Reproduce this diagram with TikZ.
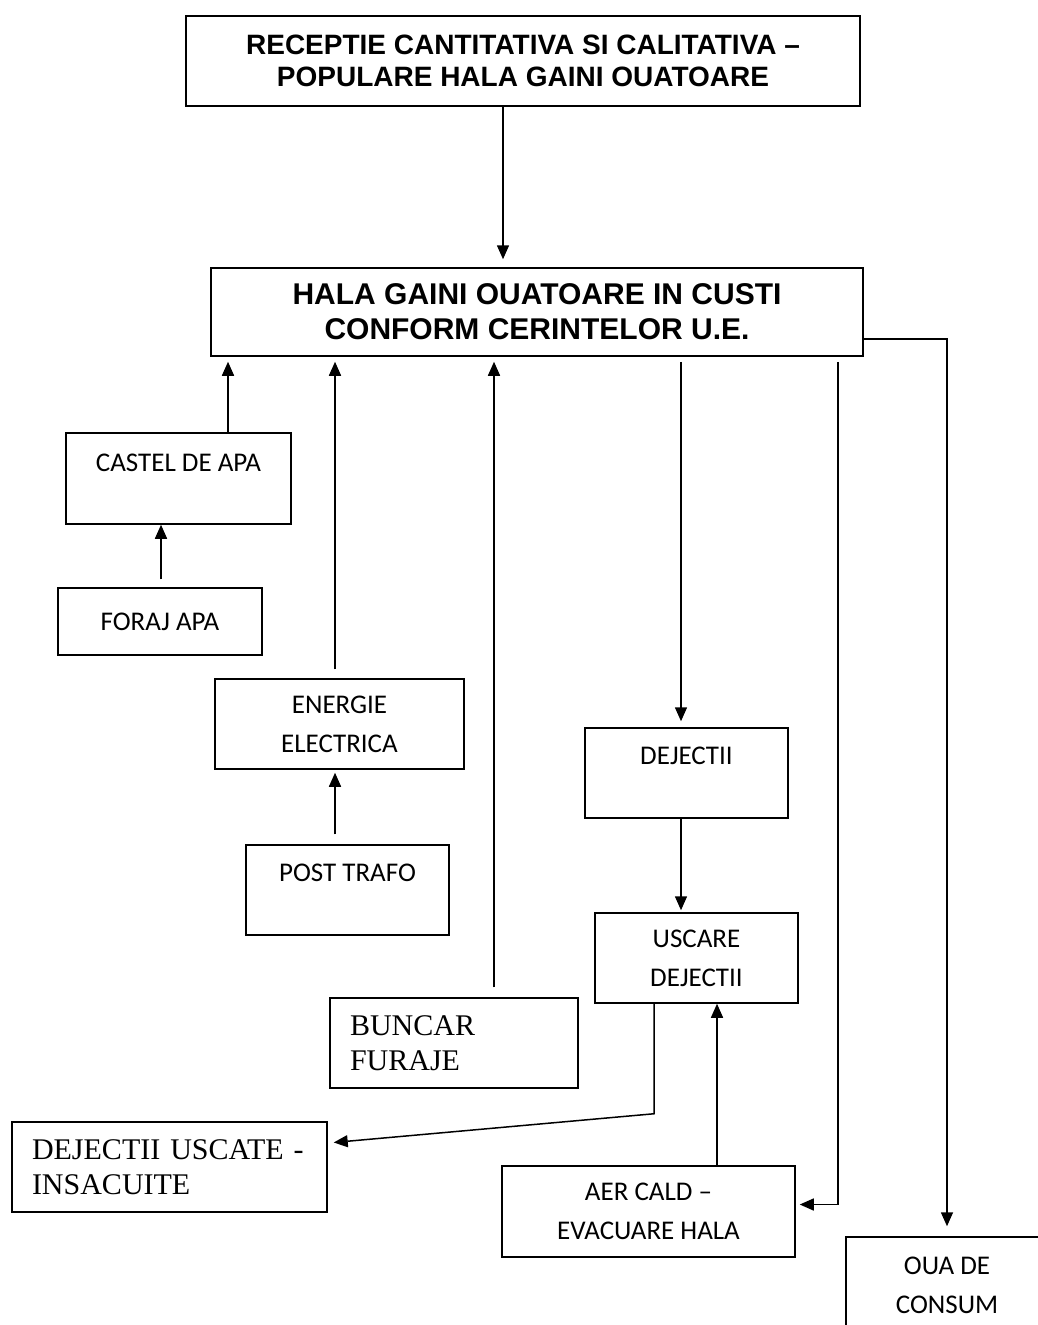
\documentclass[tikz,border=0pt]{standalone}
\usepackage{fontspec}
\usetikzlibrary{arrows.meta}
\newfontfamily\arialfont{Liberation Sans}
\newfontfamily\calibfont{Carlito}
\newfontfamily\timesfont{Liberation Serif}

\begin{document}
\begin{tikzpicture}[x = 1pt, y = -1pt,
    box/.style = { draw, line width = 1.5pt, align = center, inner sep = 0pt },
    headbox/.style = { box, font = \arialfont\bfseries\fontsize{28}{32}\selectfont },
    smallbox/.style = { box, font = \calibfont\fontsize{27}{39}\selectfont },
    serifbox/.style = { box, align = left, inner xsep = 20pt, font = \timesfont\fontsize{30}{35}\selectfont },
    arr/.style = { line width = 1.5pt, -{Triangle[length = 14pt, width = 12pt]} }]
    \useasboundingbox (0,0) rectangle (1037,1325);

    \node [headbox, minimum width = 674pt, minimum height = 90pt] (top) at (523,61)
      { RECEPTIE CANTITATIVA SI CALITATIVA –\\ POPULARE HALA GAINI OUATOARE };
    \node [headbox, font = \arialfont\bfseries\fontsize{30}{35}\selectfont,
           minimum width = 652pt, minimum height = 88pt] (hall) at (537,312)
      { HALA GAINI OUATOARE IN CUSTI\\ CONFORM CERINTELOR U.E. };

    \node [smallbox, minimum width = 225pt, minimum height = 91pt] (castel) at (178.5,478.5) { CASTEL DE APA\\[-7pt] ~ };
    \node [smallbox, minimum width = 204pt, minimum height = 67pt] (foraj) at (160,621.5) { \hspace*{6pt}FORAJ APA };
    \node [smallbox, minimum width = 249pt, minimum height = 90pt] (energie) at (339.5,724) { ENERGIE\\ ELECTRICA };
    \node [smallbox, minimum width = 203pt, minimum height = 90pt] (post) at (347.5,890) { POST TRAFO\\[-5pt] ~ };
    \node [serifbox, text width = 208pt, minimum height = 90pt] (buncar) at (454,1043) { BUNCAR\\ FURAJE };
    \node [smallbox, minimum width = 203pt, minimum height = 90pt] (dejectii) at (686.5,773) { DEJECTII\\[-5pt] ~ };
    \node [smallbox, minimum width = 203pt, minimum height = 90pt] (uscare) at (696.5,958) { USCARE\\ DEJECTII };
    \node [serifbox, text width = 275pt, minimum height = 90pt] (uscate) at (169.5,1167) { DEJECTII USCATE -\\ INSACUITE };
    \node [smallbox, minimum width = 293pt, minimum height = 91pt] (aer) at (648.5,1211.5) { AER CALD –\\ EVACUARE HALA };
    \node [smallbox, minimum width = 202pt, minimum height = 96pt] (oua) at (947,1285) { OUA DE\\ CONSUM };

    % intrari in hala
    \draw [arr, shorten >= 8pt] (top.south -| 503,0) -- (hall.north -| 503,0);
    \draw [arr, shorten >= 5pt] (castel.north -| 228,0) -- (hall.south -| 228,0);
    \draw [arr, shorten <= 8pt] (foraj.north -| 161,0) -- (castel.south -| 161,0);
    \draw [arr, shorten <= 9pt, shorten >= 5pt] (energie.north -| 335,0) -- (hall.south -| 335,0);
    \draw [arr, shorten <= 10pt, shorten >= 3pt] (post.north -| 335,0) -- (energie.south -| 335,0);
    \draw [arr, shorten <= 10pt, shorten >= 5pt] (buncar.north -| 494,0) -- (hall.south -| 494,0);

    % iesiri din hala
    \draw [arr, shorten <= 5pt, shorten >= 6pt] (hall.south -| 681,0) -- (dejectii.north -| 681,0);
    \draw [arr, shorten >= 2pt] (dejectii.south -| 681,0) -- (uscare.north -| 681,0);
    \draw [arr, shorten >= 6pt] (uscare.south -| 654,0) -- ++(0,110) -- ([yshift = 24pt]uscate.east);
    \draw [arr] (aer.north -| 717,0) -- (uscare.south -| 717,0);
    \draw [arr, shorten <= 5pt, shorten >= 4pt] (hall.south -| 838,0) |- ([yshift = 7pt]aer.east);
    \draw [arr, shorten >= 10pt] ([yshift = -27pt]hall.east) -| (oua.north);
\end{tikzpicture}
\end{document}
